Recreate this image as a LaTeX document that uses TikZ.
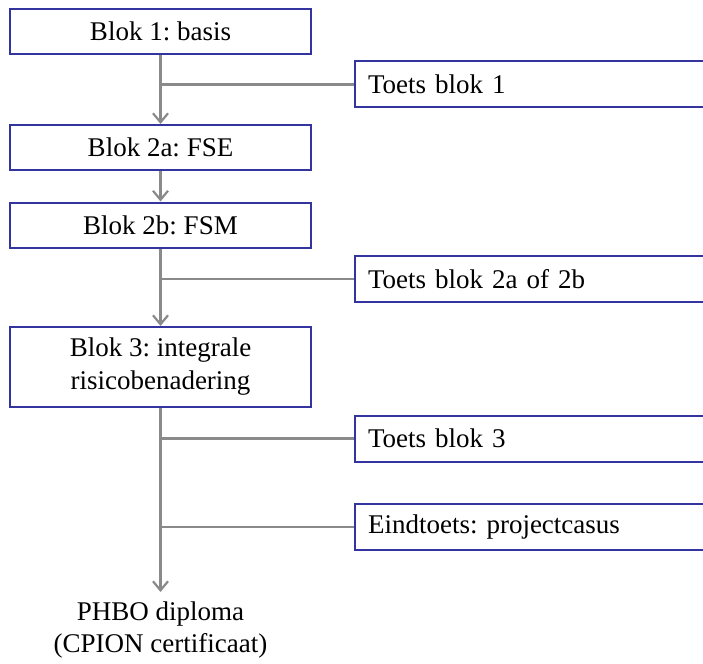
\documentclass[tikz,border=0pt]{standalone}
\usepackage{fontspec}
\setmainfont{Liberation Serif}
\usetikzlibrary{arrows.meta}
\definecolor{randblauw}{RGB}{52,52,160}
\definecolor{lijngrijs}{RGB}{138,138,138}
\frenchspacing

\begin{document}
\begin{tikzpicture}[x=1pt,y=-1pt]
\tikzset{
blok/.style={draw=randblauw,line width=2pt,fill=white,minimum width=301pt,minimum height=45pt,
  align=center,inner sep=0pt,font=\fontsize{27}{33}\selectfont},
toets/.style={draw=randblauw,line width=2pt,fill=white,anchor=west,text width=386pt,minimum height=46pt,
  align=left,inner xsep=13pt,inner ysep=0pt,font=\fontsize{27}{33}\selectfont},
lijn/.style={draw=lijngrijs,line width=2.2pt},
pijl/.style={lijn,-{Straight Barb[length=9pt,width=15pt,line width=2.2pt]}}
}
\useasboundingbox (0,0) rectangle (703,663);
\clip (0,0) rectangle (703,663);
\node[blok] (b1) at (160.5,31.5) {Blok 1: basis};
\node[blok] (b2a) at (160.5,147.5) {Blok 2a: FSE};
\node[blok] (b2b) at (160.5,225) {Blok 2b: FSM};
\node[blok,minimum height=80pt] (b3) at (160.5,367) {Blok 3: integrale\\risicobenadering};
\node[toets] (t1) at (354,84.5) {Toets blok 1};
\node[toets] (t2) at (354,279) {Toets blok 2a of 2b};
\node[toets] (t3) at (354,438.5) {Toets blok 3};
\node[toets] (t4) at (354,527) {Eindtoets: projectcasus};
\node[align=center,anchor=north,inner xsep=2pt,inner ysep=10pt,font=\fontsize{27}{32}\selectfont] (dipl) at (160.5,592)
  {PHBO diploma\\(CPION certificaat)};
\draw[pijl] (b1) -- (b2a);
\draw[pijl] (b2a) -- (b2b);
\draw[pijl] (b2b) -- (b3);
\draw[pijl] (b3) -- (dipl);
\draw[lijn] (b1 |- t1) -- (t1);
\draw[lijn] (b2b |- t2) -- (t2);
\draw[lijn] (b3 |- t3) -- (t3);
\draw[lijn] (b3 |- t4) -- (t4);
\end{tikzpicture}
\end{document}
